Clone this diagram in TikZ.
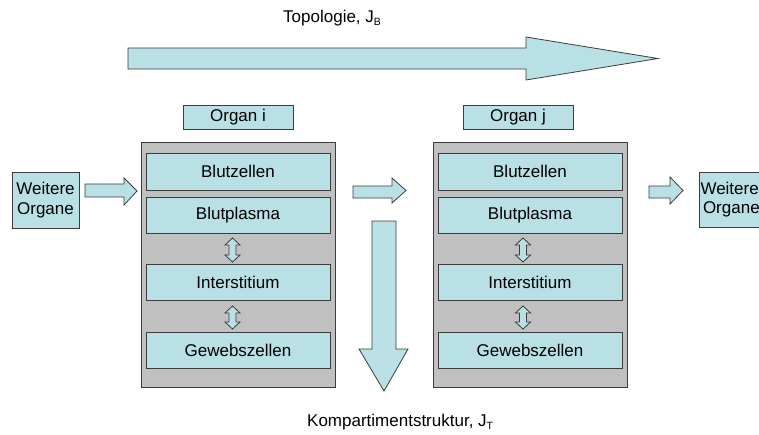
\documentclass[tikz,border=0pt]{standalone}
\usepackage{fontspec}
\setmainfont{Liberation Sans}
\definecolor{boxblue}{RGB}{185,224,228}
\definecolor{boxgray}{RGB}{192,192,192}
\definecolor{edge}{RGB}{60,60,60}
\newcommand{\subtxt}[1]{\raisebox{-0.35ex}{\fontsize{10.5}{10.5}\selectfont #1}}
\begin{document}
\begin{tikzpicture}[x=1pt,y=-1pt,
  every node/.style={font=\fontsize{17}{19.5}\selectfont, inner sep=0pt},
  bluebox/.style={draw=edge, line width=0.8pt, fill=boxblue, align=center},
  graybox/.style={draw=edge, line width=0.8pt, fill=boxgray},
  blockarrow/.style={draw=edge, line width=0.8pt, fill=boxblue, line join=miter},
  lbl/.style={anchor=west}]
\useasboundingbox (0,0) rectangle (759,434);
\clip (0,0) rectangle (759,434);

% top title and big arrow
\node[lbl] (topo) at (283,18) {Topologie, J\subtxt{B}};
\draw[blockarrow] (128,48) -- (526,48) -- (526,37) -- (658,58.5) -- (526,80) -- (526,69) -- (128,69) -- cycle;

% organ labels
\node[bluebox, minimum width=110pt, minimum height=24pt] (orgi) at (238,117) {Organ i};
\node[bluebox, minimum width=110pt, minimum height=24pt] (orgj) at (518,117) {Organ j};

% organ containers
\node[graybox, minimum width=194pt, minimum height=245pt] (gi) at (238,264.5) {};
\node[graybox, minimum width=194pt, minimum height=245pt] (gj) at (530,264.5) {};

% compartments, organ i
\node[bluebox, minimum width=184pt, minimum height=37pt] (bzi) at (238,171.5) {Blutzellen};
\node[bluebox, minimum width=184pt, minimum height=36pt] (bpi) at (238,215) {Blutplasma};
\node[bluebox, minimum width=184pt, minimum height=36pt] (isi) at (238,282) {Interstitium};
\node[bluebox, minimum width=184pt, minimum height=36pt] (gwi) at (238,350) {Gewebszellen};
% compartments, organ j
\node[bluebox, minimum width=184pt, minimum height=37pt] (bzj) at (530,171.5) {Blutzellen};
\node[bluebox, minimum width=184pt, minimum height=36pt] (bpj) at (530,215) {Blutplasma};
\node[bluebox, minimum width=184pt, minimum height=36pt] (isj) at (530,282) {Interstitium};
\node[bluebox, minimum width=184pt, minimum height=36pt] (gwj) at (530,350) {Gewebszellen};

% vertical double arrows
\foreach \cx/\ya/\yb in {232.5/238/262, 232.5/306/329, 523/238/262, 523/306/329}{
  \draw[blockarrow] (\cx,\ya) -- (\cx+7.5,\ya+7) -- (\cx+3.5,\ya+7) -- (\cx+3.5,\yb-7) -- (\cx+7.5,\yb-7)
     -- (\cx,\yb) -- (\cx-7.5,\yb-7) -- (\cx-3.5,\yb-7) -- (\cx-3.5,\ya+7) -- (\cx-7.5,\ya+7) -- cycle;
}

% other organs
\node[bluebox, minimum width=67pt, minimum height=56pt] (wl) at (45.5,200) {Weitere\\Organe};
\node[bluebox, minimum width=67pt, minimum height=55pt, text width=67pt, align=left] (wr) at (732.5,199.5) {\hspace*{1.5pt}Weitere\\\hspace*{4pt}Organe};

% horizontal flow arrows
\draw[blockarrow] (85,184) -- (124,184) -- (124,178) -- (137,191) -- (124,205) -- (124,197) -- (85,197) -- cycle;
\draw[blockarrow] (353,186) -- (392,186) -- (392,178) -- (406,190.5) -- (392,203) -- (392,198) -- (353,198) -- cycle;
\draw[blockarrow] (649,186) -- (670,186) -- (670,177) -- (683,190.5) -- (670,204) -- (670,198) -- (649,198) -- cycle;

% downward arrow
\draw[blockarrow] (372,221) -- (396,221) -- (396,349) -- (408,349) -- (384,391) -- (359,349) -- (372,349) -- cycle;

% bottom label
\node[lbl] (komp) at (307,422) {Kompartimentstruktur, J\subtxt{T}};
\end{tikzpicture}
\end{document}
